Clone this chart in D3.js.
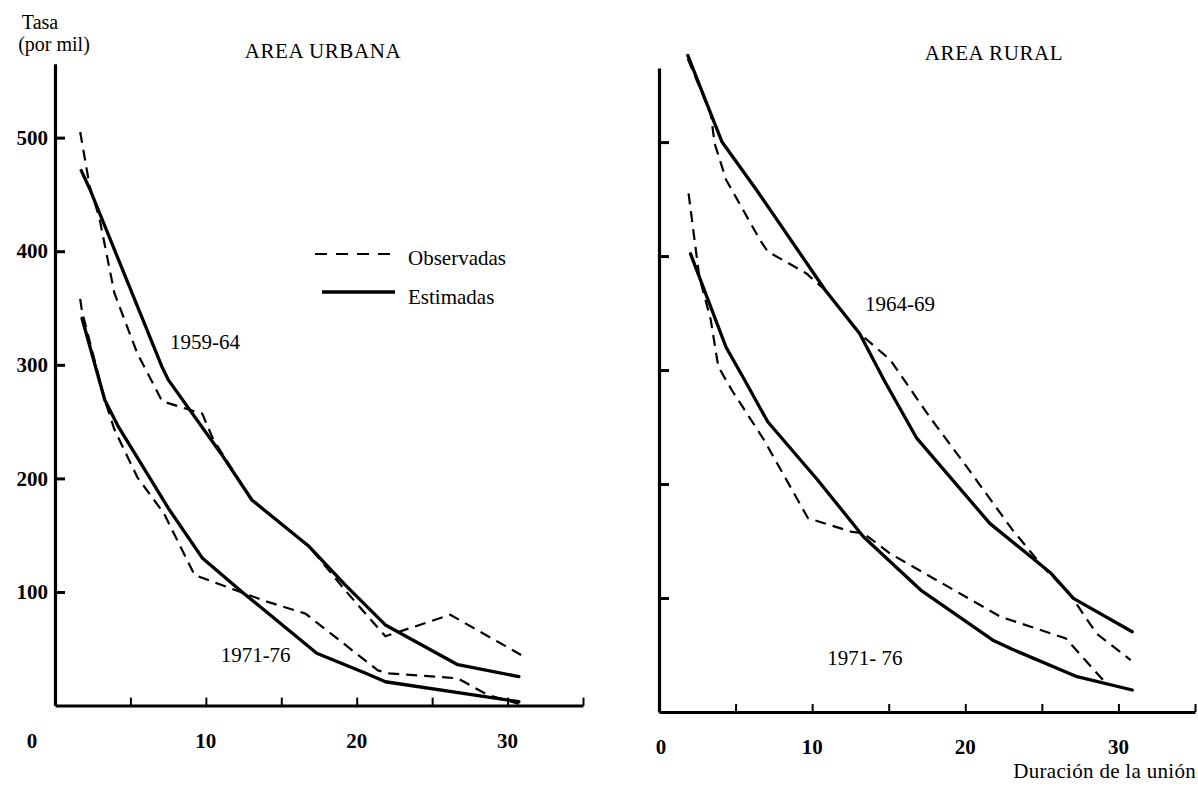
<!DOCTYPE html>
<html>
<head>
<meta charset="utf-8">
<script src="https://cdn.jsdelivr.net/npm/d3@7"></script>
<style>
  html, body { margin: 0; padding: 0; background: #fff; }
  svg { display: block; }
  text { font-family: "Liberation Serif", "DejaVu Serif", serif; fill: #000; }
</style>
</head>
<body>
<svg id="chart" width="1198" height="788"></svg>
<script>
// Tasas por mil según duración de la unión (años)
const xTicks = [5, 10, 15, 20, 25, 30, 35];
const xTickLabels = [0, 10, 20, 30];
const yTicks = [100, 200, 300, 400, 500];

// Área urbana, 1959-64
const urbana5964Obs = [[1.67, 505], [2.3, 457], [2.93, 430], [3.94, 363], [5.46, 310], [6.6, 281], [7.1, 268],
  [9.76, 257], [10.5, 234], [13.05, 181], [16.85, 140], [19.4, 99], [21.9, 61], [26.2, 80], [30.9, 44.5]];
const urbana5964Est = [[1.74, 471], [2.3, 455], [7.1, 298], [7.5, 287], [11.0, 222], [13.05, 181], [16.85, 140],
  [19.25, 106], [21.9, 71], [26.7, 36], [30.75, 25.5]];

// Área urbana, 1971-76
const urbana7176Obs = [[1.67, 358], [1.79, 347], [3.3, 269], [3.94, 243], [5.46, 201], [7.23, 169], [9.25, 115],
  [12.3, 100], [14.05, 91.5], [16.6, 81], [21.4, 31], [22.15, 28.4], [26.7, 24], [28.7, 9.3], [30.75, 1.5]];
const urbana7176Est = [[1.79, 341], [3.3, 269], [4.2, 245.5], [7.5, 174], [9.76, 130], [12.5, 99], [17.35, 46],
  [20.6, 28.4], [21.9, 21], [30.75, 3.4]];

// Área rural, 1964-69
const rural6469Obs = [[1.88, 573], [3.38, 525], [3.63, 499], [4.38, 467], [6.6, 414], [7.1, 404], [9.6, 385],
  [10.86, 370], [13.1, 332], [15.1, 309], [16.84, 275], [17.83, 256], [20.1, 215], [23.07, 160], [25.06, 127.5],
  [26.8, 104], [28.56, 69], [30.8, 45.6]];
const rural6469Est = [[1.88, 576], [3.38, 525], [4.12, 500], [6.37, 458], [10.86, 370], [13.1, 332], [14.7, 291],
  [16.84, 240], [21.6, 165.5], [25.6, 121.7], [27.06, 99.7], [30.9, 70.4]];

// Área rural, 1971-76
const rural7176Obs = [[1.93, 455], [2.63, 382], [3.38, 344], [3.87, 303], [4.75, 282.5], [6.86, 238.6], [9.73, 170],
  [12.6, 158], [13.35, 156.8], [15.09, 139], [22.3, 83.6], [26.56, 64.6], [28.7, 32.5], [29.2, 25]];
const rural7176Est = [[2.06, 402], [4.38, 320], [5.6, 291], [7.1, 254.6], [10.36, 203.5], [13.35, 153.8],
  [17.09, 107], [21.8, 63], [23.07, 55], [27.3, 31], [30.9, 19.3]];

const svg = d3.select("#chart");
const FONT = 21;

function panel(opts) {
  const x = d3.scaleLinear().domain([0, 35]).range(opts.xRange);
  const y = d3.scaleLinear().domain([0, 565]).range(opts.yRange);
  const g = svg.append("g");

  // x axis: ticks every 5 years, pointing into the plot
  const xAxis = g.append("g")
    .attr("transform", `translate(0,${y(0)})`)
    .call(d3.axisBottom(x).tickValues(xTicks).tickSizeInner(-8).tickSizeOuter(0).tickFormat(""));
  xAxis.select(".domain").attr("stroke", "#000").attr("stroke-width", 3);
  xAxis.selectAll(".tick line").attr("stroke", "#000").attr("stroke-width", 2);

  // x tick labels
  g.selectAll(".xlab").data(xTickLabels).join("text")
    .attr("class", "xlab")
    .attr("x", d => x(d) + (d === 0 ? opts.zeroShift : 0))
    .attr("y", y(0) + 42)
    .attr("text-anchor", "middle")
    .attr("font-size", FONT)
    .attr("font-weight", "bold")
    .text(d => d);

  // y axis
  const yAxis = g.append("g")
    .attr("transform", `translate(${x(0)},0)`)
    .call(d3.axisLeft(y).tickValues(yTicks).tickSizeInner(-10).tickSizeOuter(0).tickPadding(7)
      .tickFormat(opts.yLabels ? d3.format("d") : ""));
  yAxis.select(".domain").attr("stroke", "#000").attr("stroke-width", 3.2);
  yAxis.selectAll(".tick line").attr("stroke", "#000").attr("stroke-width", 3);
  yAxis.selectAll(".tick text")
    .attr("font-family", "Liberation Serif, serif")
    .attr("font-size", FONT)
    .attr("font-weight", "bold")
    .attr("fill", "#000");

  const line = d3.line().x(d => x(d[0])).y(d => y(d[1]));

  opts.series.forEach(s => {
    g.append("path")
      .datum(s.data)
      .attr("d", line)
      .attr("fill", "none")
      .attr("stroke", "#000")
      .attr("stroke-width", s.dashed ? 2.2 : 3.3)
      .attr("stroke-linejoin", "round")
      .attr("stroke-linecap", s.dashed ? "butt" : "round")
      .attr("stroke-dasharray", s.dashed ? "11,7" : null);
  });

  // period labels
  opts.labels.forEach(l => {
    g.append("text")
      .attr("x", x(l.at[0]))
      .attr("y", y(l.at[1]))
      .attr("text-anchor", "middle")
      .attr("font-size", FONT)
      .text(l.text);
  });

  // panel title
  g.append("text")
    .attr("x", opts.titleX)
    .attr("y", opts.titleY)
    .attr("text-anchor", "middle")
    .attr("font-size", FONT)
    .attr("letter-spacing", 0.6)
    .text(opts.title);

  return { x, y, g };
}

const urb = panel({
  xRange: [55, 583], yRange: [705.6, 63.8], zeroShift: -23, yLabels: true,
  title: "AREA URBANA", titleX: 323, titleY: 58,
  series: [
    { data: urbana5964Obs, dashed: true },
    { data: urbana5964Est, dashed: false },
    { data: urbana7176Obs, dashed: true },
    { data: urbana7176Est, dashed: false }
  ],
  labels: [
    { text: "1959-64", at: [9.94, 314] },
    { text: "1971-76", at: [13.3, 38.4] }
  ]
});

const rur = panel({
  xRange: [659, 1195], yRange: [712, 68], zeroShift: 2, yLabels: false,
  title: "AREA RURAL", titleX: 994, titleY: 60,
  series: [
    { data: rural6469Obs, dashed: true },
    { data: rural6469Est, dashed: false },
    { data: rural7176Obs, dashed: true },
    { data: rural7176Est, dashed: false }
  ],
  labels: [
    { text: "1964-69", at: [15.74, 352] },
    { text: "1971- 76", at: [13.45, 41] }
  ]
});

// y-axis title
svg.append("text").attr("x", 40).attr("y", 29).attr("text-anchor", "middle")
  .attr("font-size", FONT - 1).text("Tasa");
svg.append("text").attr("x", 54).attr("y", 51).attr("text-anchor", "middle")
  .attr("font-size", FONT - 1).text("(por mil)");

// x-axis title
svg.append("text").attr("x", 1196).attr("y", 778).attr("text-anchor", "end")
  .attr("font-size", FONT).attr("letter-spacing", 0.3).text("Duración de la unión");

// legend
const legend = svg.append("g");
const legendItems = [
  { label: "Observadas", dashed: true, x0: 315, y: 254, ty: 265 },
  { label: "Estimadas", dashed: false, x0: 322, y: 292, ty: 304 }
];
legendItems.forEach(it => {
  legend.append("line")
    .attr("x1", it.x0).attr("x2", 395).attr("y1", it.y).attr("y2", it.y)
    .attr("stroke", "#000")
    .attr("stroke-width", it.dashed ? 2.2 : 3.3)
    .attr("stroke-dasharray", it.dashed ? "12,9" : null);
  legend.append("text")
    .attr("x", 408).attr("y", it.ty)
    .attr("font-size", FONT)
    .text(it.label);
});
</script>
</body>
</html>
